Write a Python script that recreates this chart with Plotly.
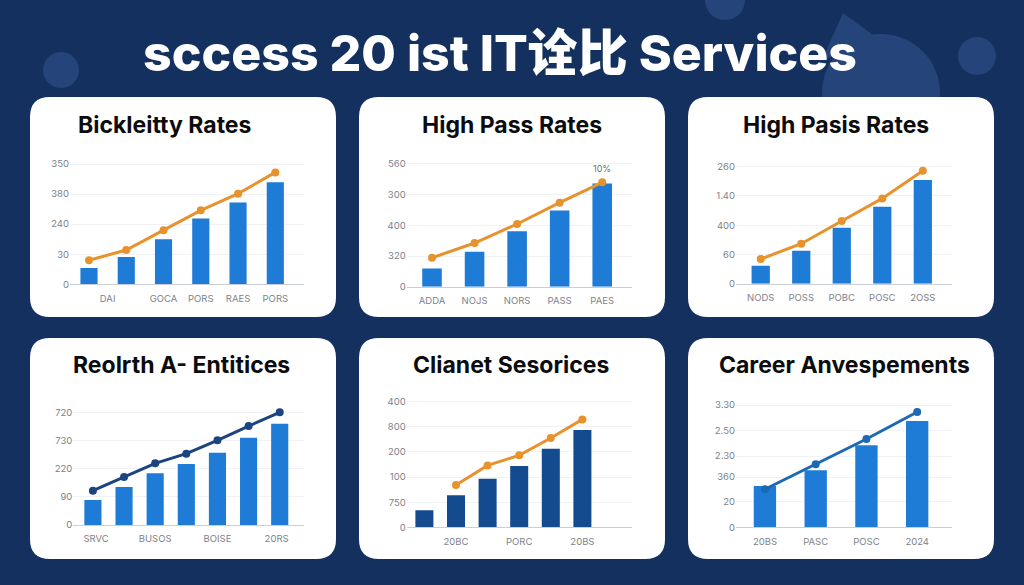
import plotly.graph_objects as go

W = 1024
H = 585

BG = "#14305f"
DECO = "#24447a"
BLUE = "#1e7bd6"
DARK_BLUE = "#144a8e"
ORANGE = "#e8922e"
NAVY = "#1b4480"
MID_BLUE = "#1c69b4"

main_title = "sccess 20 ist IT诠比 Services"

# values are read against the top gridline = 100
titles = ["Bickleitty Rates", "High Pass Rates", "High Pasis Rates",
          "Reolrth A- Entitices", "Clianet Sesorices", "Career Anvespements"]

bars_1 = [13.6, 22.6, 37.4, 54.6, 67.9, 84.8]
line_1 = [20, 28.5, 45, 61.5, 75.3, 93]
ylabels_1 = ["0", "30", "240", "380", "350"]
xlabels_1 = ["DAI", "GOCA", "PORS", "RAES", "PORS"]

bars_2 = [14.9, 28.5, 45.1, 62.2, 84.2]
line_2 = [23.6, 35.6, 51.1, 68.5, 85.1]
ylabels_2 = ["0", "320", "400", "300", "560"]
xlabels_2 = ["ADDA", "NOJS", "NORS", "PASS", "PAES"]

bars_3 = [15.4, 28.2, 47.9, 65.8, 88.6]
line_3 = [21.1, 34.2, 53.6, 72.9, 96.6]
ylabels_3 = ["0", "60", "400", "1.40", "260"]
xlabels_3 = ["NODS", "POSS", "POBC", "POSC", "2OSS"]

bars_4 = [22.3, 33.8, 46.0, 54.3, 64.4, 77.7, 90.2]
line_4 = [30.6, 42.7, 54.9, 63.5, 75.4, 88.1, 100.3]
ylabels_4 = ["0", "90", "220", "730", "720"]
xlabels_4 = ["SRVC", "BUSOS", "BOISE", "20RS"]

bars_5 = [13.5, 25.5, 38.7, 48.8, 62.6, 77.5]
line_5 = [None, 33.7, 49.3, 57.3, 71.1, 85.9]
ylabels_5 = ["0", "750", "100", "200", "800", "400"]
xlabels_5 = ["20BC", "PORC", "20BS"]

bars_6 = [33.8, 46.6, 67, 86.9]
line_6 = [31.1, 51.5, 72.2, 94.3]
ylabels_6 = ["0", "20", "360", "2.30", "2.50", "3.30"]
xlabels_6 = ["20BS", "PASC", "POSC", "2024"]


def px(x):
    return x / W


def py(y):
    return 1 - y / H


def card(x0, y0, x1, y1, r=20):
    path = (f"M {px(x0 + r)} {py(y0)} L {px(x1 - r)} {py(y0)} Q {px(x1)} {py(y0)} {px(x1)} {py(y0 + r)} "
            f"L {px(x1)} {py(y1 - r)} Q {px(x1)} {py(y1)} {px(x1 - r)} {py(y1)} "
            f"L {px(x0 + r)} {py(y1)} Q {px(x0)} {py(y1)} {px(x0)} {py(y1 - r)} "
            f"L {px(x0)} {py(y0 + r)} Q {px(x0)} {py(y0)} {px(x0 + r)} {py(y0)} Z")
    return dict(type="path", xref="paper", yref="paper", path=path, fillcolor="white",
                line=dict(width=0), layer="below")


def blob(cx, cy, r):
    return dict(type="circle", xref="paper", yref="paper", x0=px(cx - r), x1=px(cx + r),
                y0=py(cy + r), y1=py(cy - r), fillcolor=DECO, line=dict(width=0), layer="below")


panels = [
    dict(bars=bars_1, line=line_1, ylabels=ylabels_1, yticks=[0, 25, 50, 75, 100], xlabels=xlabels_1,
         xticks=[0.5, 2, 3, 4, 5], box=(70, 304, 284.3, 164), xrange=(-0.51, 5.77), bar=BLUE, ln=ORANGE,
         width=0.46, card=(30, 97, 336, 317), title_at=(165, 125)),
    dict(bars=bars_2, line=line_2, ylabels=ylabels_2, yticks=[0, 25, 50, 75, 100], xlabels=xlabels_2,
         xticks=[0, 1, 2, 3, 4], box=(406.7, 632, 286.7, 164), xrange=(-0.595, 4.7), bar=BLUE, ln=ORANGE,
         width=0.46, card=(359, 97, 665, 317), title_at=(511.7, 125)),
    dict(bars=bars_3, line=line_3, ylabels=ylabels_3, yticks=[0, 25, 50, 75, 100], xlabels=xlabels_3,
         xticks=[0, 1, 2, 3, 4], box=(736, 952, 283.7, 166.7), xrange=(-0.61, 4.72), bar=BLUE, ln=ORANGE,
         width=0.45, card=(688, 97, 994, 317), title_at=(836, 125)),
    dict(bars=bars_4, line=line_4, ylabels=ylabels_4, yticks=[0, 25, 50, 75, 100], xlabels=xlabels_4,
         xticks=[0.1, 2, 4, 5.9], box=(73.3, 304, 525, 412.7), xrange=(-0.63, 6.78), bar=BLUE, ln=NAVY,
         width=0.55, card=(30, 338, 336, 559), title_at=(181.7, 365)),
    dict(bars=bars_5, line=line_5, ylabels=ylabels_5, yticks=[0, 20, 40, 60, 80, 100], xlabels=xlabels_5,
         xticks=[1, 3, 5], box=(406.7, 631.7, 527.3, 401.7), xrange=(-0.56, 6.56), bar=DARK_BLUE, ln=ORANGE,
         width=0.57, card=(359, 338, 665, 559), title_at=(511, 365)),
    dict(bars=bars_6, line=line_6, ylabels=ylabels_6, yticks=[0, 20.7, 41.1, 58.3, 79, 100], xlabels=xlabels_6,
         xticks=[0, 1, 2, 3], box=(736, 951.7, 527.3, 405), xrange=(-0.57, 3.68), bar=BLUE, ln=MID_BLUE,
         width=0.44, card=(688, 338, 994, 559), title_at=(844.7, 365)),
]

YTOP = 112

fig = go.Figure()
shapes = [blob(61, 70, 18), blob(977, 56, 19), blob(881, 93, 59), blob(725, 0, 20),
          dict(type="path", xref="paper", yref="paper", fillcolor=DECO, line=dict(width=0), layer="below",
               path=f"M {px(843)} {py(13)} L {px(822)} {py(60)} L {px(880)} {py(40)} Z")]
annotations = [dict(text=main_title, x=px(500), y=py(53), xref="paper", yref="paper", showarrow=False,
                    xanchor="center", yanchor="middle",
                    font=dict(family="Inter, 'Noto Sans CJK SC'", size=50, color="white", weight=800))]
layout_axes = {}

for i, p in enumerate(panels):
    n = "" if i == 0 else str(i + 1)
    x0, x1, y0, ytop = p["box"]
    slots = list(range(len(p["bars"])))

    fig.add_trace(go.Bar(x=slots, y=p["bars"], width=p["width"], marker=dict(color=p["bar"], line=dict(width=0)),
                         xaxis=f"x{n}", yaxis=f"y{n}", showlegend=False))
    fig.add_trace(go.Scatter(x=slots, y=p["line"], mode="lines+markers", line=dict(color=p["ln"], width=3),
                             marker=dict(color=p["ln"], size=8), xaxis=f"x{n}", yaxis=f"y{n}",
                             showlegend=False, cliponaxis=False))

    shapes.append(card(*p["card"]))
    layout_axes[f"xaxis{n}"] = dict(
        domain=[px(x0), px(x1)], range=list(p["xrange"]), anchor=f"y{n}", automargin=False,
        tickvals=p["xticks"], ticktext=p["xlabels"], showgrid=False, zeroline=False,
        showline=True, linecolor="#c9ced8", linewidth=1, ticks="outside", ticklen=5, tickcolor="rgba(0,0,0,0)",
        tickfont=dict(family="Inter", size=9.5, color="#7d828a"),
    )
    layout_axes[f"yaxis{n}"] = dict(
        domain=[py(y0), py(y0 - (y0 - ytop) * YTOP / 100)], range=[0, YTOP], anchor=f"x{n}", automargin=False,
        tickvals=p["yticks"], ticktext=p["ylabels"], showgrid=True, gridcolor="#f1f2f5", gridwidth=1,
        zeroline=False, showline=False, tickfont=dict(family="Inter", size=9.5, color="#7d828a"),
    )
    tx, ty = p["title_at"]
    annotations.append(dict(text=titles[i], x=px(tx), y=py(ty), xref="paper", yref="paper", showarrow=False,
                            xanchor="center", yanchor="middle",
                            font=dict(family="Inter", size=23, color="#0c0c0e", weight=700)))

# the small label above the last point of the second chart
annotations.append(dict(text="10%", x=4, y=line_2[4], xref="x2", yref="y2", yshift=14, showarrow=False,
                        font=dict(family="Inter", size=9, color="#6d7075")))

fig.update_layout(
    width=W, height=H, margin=dict(l=0, r=0, t=0, b=0),
    paper_bgcolor=BG, plot_bgcolor="rgba(0,0,0,0)",
    shapes=shapes, annotations=annotations, **layout_axes,
)

# browser default body margin would shift the whole figure by 8px
fig.write_html("out.html", config=dict(displayModeBar=False),
               post_script="document.body.style.margin='0';document.body.style.overflow='hidden';")
